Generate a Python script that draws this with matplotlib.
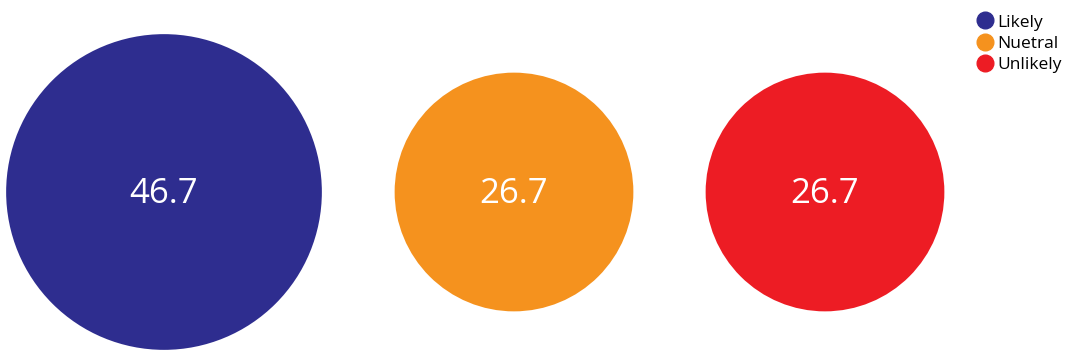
import numpy as np
import matplotlib
matplotlib.use('Agg')
import matplotlib.pyplot as plt
from matplotlib.patches import Circle
from matplotlib.lines import Line2D

categories = ['Likely', 'Nuetral', 'Unlikely']
values = [46.7, 26.7, 26.7]
colors = ['#2E2D8F', '#F5921E', '#ED1C24']

plt.rcParams['font.family'] = ['Open Sans', 'DejaVu Sans']

fig = plt.figure(figsize=(10.7, 3.6), dpi=100)
ax = fig.add_axes([0, 0, 1, 1])
ax.set_xlim(0, 1070)
ax.set_ylim(360, 0)
ax.set_aspect('equal')
ax.axis('off')

# bubble area proportional to value
scale = 23.1
centers_x = [164, 514, 825]
cy = 192
for cx, v, c in zip(centers_x, values, colors):
    r = scale * np.sqrt(v)
    ax.add_patch(Circle((cx, cy), r, color=c, lw=0))
    ax.text(cx, cy + 2, f'{v:.1f}', color='white', fontsize=25,
            ha='center', va='center')

handles = [Line2D([], [], marker='o', ls='', color=c, markersize=12)
           for c in colors]
ax.legend(handles, categories, loc='upper right', bbox_to_anchor=(1.002, 0.989),
          frameon=False, fontsize=12.5, handletextpad=0.1, labelspacing=0.3,
          borderaxespad=0.2, handlelength=1.2)

fig.savefig('out.png', dpi=100)
